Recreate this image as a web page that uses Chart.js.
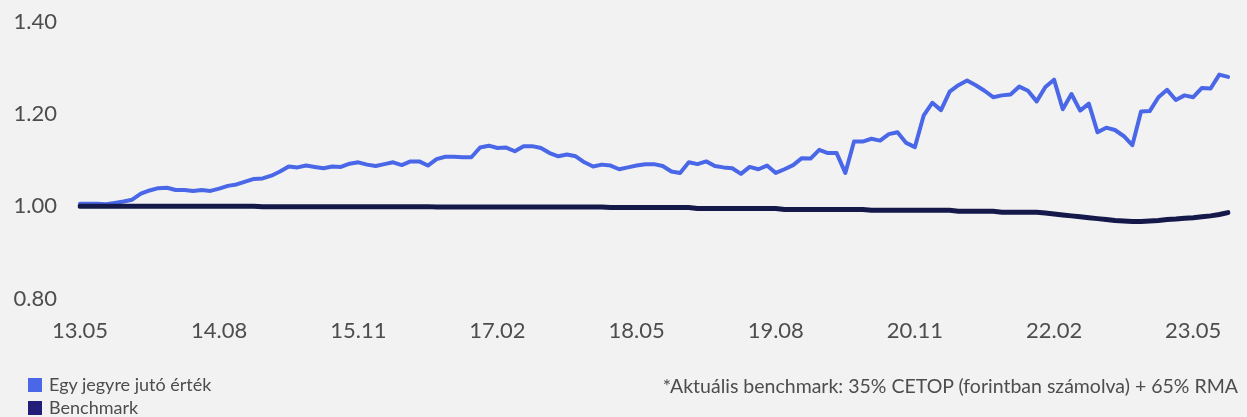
<!DOCTYPE html>
<html>
<head>
<meta charset="utf-8">
<script src="https://cdn.jsdelivr.net/npm/chart.js@4.4.0/dist/chart.umd.min.js"></script>
<style>
  html, body { margin: 0; padding: 0; background: #f2f2f2; }
  #wrap { position: relative; width: 1247px; height: 417px; font-family: Lato, "Open Sans", sans-serif; color: #4d4d4d; }
  #chart { position: absolute; left: 0; top: 0; }
  .legend { position: absolute; left: 28px; font-size: 18px; line-height: 20px; }
  .legend span { display: inline-block; width: 14px; height: 14px; margin-right: 7px; vertical-align: -1px; }
  #note { position: absolute; right: 9px; top: 374px; font-size: 19.5px; }
</style>
</head>
<body>
<div id="wrap">
  <canvas id="chart" width="1247" height="417"></canvas>
  <div class="legend" style="top:374px"><span style="background:#4a67e8"></span>Egy jegyre jutó érték</div>
  <div class="legend" style="top:397px"><span style="background:#231f78"></span>Benchmark</div>
  <div id="note">*Aktuális benchmark: 35% CETOP (forintban számolva) + 65% RMA</div>
</div>
<script>
// tick labels shown along the x axis, one every 16 points
const tickLabels = ['13.05', '14.08', '15.11', '17.02', '18.05', '19.08', '20.11', '22.02', '23.05'];
const pointsPerTick = 16;

// value per unit (Egy jegyre jutó érték)
const fundValues = [
  1.005, 1.005, 1.005, 1.004, 1.007, 1.010, 1.014, 1.027, 1.034, 1.039,
  1.040, 1.035, 1.035, 1.033, 1.035, 1.033, 1.038, 1.044, 1.047, 1.053,
  1.059, 1.060, 1.066, 1.075, 1.086, 1.084, 1.088, 1.085, 1.082, 1.086,
  1.085, 1.092, 1.095, 1.090, 1.087, 1.091, 1.095, 1.089, 1.097, 1.097,
  1.088, 1.102, 1.107, 1.107, 1.106, 1.106, 1.127, 1.131, 1.126, 1.127,
  1.119, 1.130, 1.130, 1.126, 1.115, 1.108, 1.112, 1.108, 1.095, 1.086,
  1.090, 1.088, 1.080, 1.084, 1.088, 1.091, 1.091, 1.087, 1.075, 1.072,
  1.095, 1.091, 1.097, 1.087, 1.084, 1.082, 1.070, 1.085, 1.080, 1.088,
  1.072, 1.080, 1.089, 1.104, 1.103, 1.122, 1.115, 1.115, 1.072, 1.140,
  1.140, 1.146, 1.142, 1.156, 1.160, 1.137, 1.128, 1.196, 1.224, 1.208,
  1.248, 1.262, 1.272, 1.262, 1.250, 1.236, 1.240, 1.242, 1.259, 1.250,
  1.227, 1.258, 1.274, 1.210, 1.243, 1.207, 1.222, 1.160, 1.170, 1.165,
  1.152, 1.132, 1.205, 1.206, 1.236, 1.252, 1.230, 1.240, 1.236, 1.256,
  1.255, 1.285, 1.280
];

const benchmarkValues = [
  1.000, 1.000, 1.000, 1.000, 1.000, 1.000, 1.000, 1.000, 1.000, 1.000,
  1.000, 1.000, 1.000, 1.000, 1.000, 1.000, 1.000, 1.000, 1.000, 1.000,
  1.000, 0.999, 0.999, 0.999, 0.999, 0.999, 0.999, 0.999, 0.999, 0.999,
  0.999, 0.999, 0.999, 0.999, 0.999, 0.999, 0.999, 0.999, 0.999, 0.999,
  0.999, 0.998, 0.998, 0.998, 0.998, 0.998, 0.998, 0.998, 0.998, 0.998,
  0.998, 0.998, 0.998, 0.998, 0.998, 0.998, 0.998, 0.998, 0.998, 0.998,
  0.998, 0.997, 0.997, 0.997, 0.997, 0.997, 0.997, 0.997, 0.997, 0.997,
  0.997, 0.995, 0.995, 0.995, 0.995, 0.995, 0.995, 0.995, 0.995, 0.995,
  0.995, 0.993, 0.993, 0.993, 0.993, 0.993, 0.993, 0.993, 0.993, 0.993,
  0.993, 0.991, 0.991, 0.991, 0.991, 0.991, 0.991, 0.991, 0.991, 0.991,
  0.991, 0.989, 0.989, 0.989, 0.989, 0.989, 0.987, 0.987, 0.987, 0.987,
  0.987, 0.985, 0.983, 0.981, 0.979, 0.977, 0.975, 0.973, 0.971, 0.969,
  0.968, 0.967, 0.967, 0.968, 0.969, 0.971, 0.972, 0.974, 0.975, 0.977,
  0.979, 0.982, 0.986
];

const xLabels = fundValues.map((v, i) => i % pointsPerTick === 0 ? (tickLabels[i / pointsPerTick] || '') : '');

const ctx = document.getElementById('chart').getContext('2d');
const chart = new Chart(ctx, {
    type: 'line',
    data: {
        labels: xLabels,
        datasets: [{
            label: 'Egy jegyre jutó érték',
            data: fundValues,
            borderColor: '#4a67e8',
            backgroundColor: '#4a67e8',
            borderWidth: 4,
            pointRadius: 0,
            tension: 0,
            borderJoinStyle: 'round',
            borderCapStyle: 'round',
            order: 1
        }, {
            label: 'Benchmark',
            data: benchmarkValues,
            borderColor: '#15194a',
            backgroundColor: '#231f78',
            borderWidth: 5,
            pointRadius: 0,
            tension: 0,
            borderCapStyle: 'round',
            order: 0
        }]
    },
    options: {
        responsive: false,
        animation: false,
        layout: { padding: { top: 21.5, right: 5, left: 0, bottom: 0 } },
        plugins: {
            legend: { display: false },
            tooltip: { enabled: false }
        },
        scales: {
            x: {
                grid: { display: false, drawTicks: false },
                border: { display: false },
                ticks: {
                    autoSkip: false,
                    maxRotation: 0,
                    padding: 19,
                    color: '#4d4d4d',
                    font: { family: 'Lato', size: 22 }
                },
                afterFit: (s) => { s.height = 118.5; }
            },
            y: {
                min: 0.8,
                max: 1.4,
                grid: { display: false, drawTicks: false },
                border: { display: false },
                ticks: {
                    stepSize: 0.2,
                    padding: 23,
                    color: '#4d4d4d',
                    font: { family: 'Lato', size: 22 },
                    callback: (v) => v.toFixed(2)
                },
                afterFit: (s) => { s.width = 80; s.paddingTop = 0; s.paddingBottom = 0; }
            }
        }
    }
});
</script>
</body>
</html>
